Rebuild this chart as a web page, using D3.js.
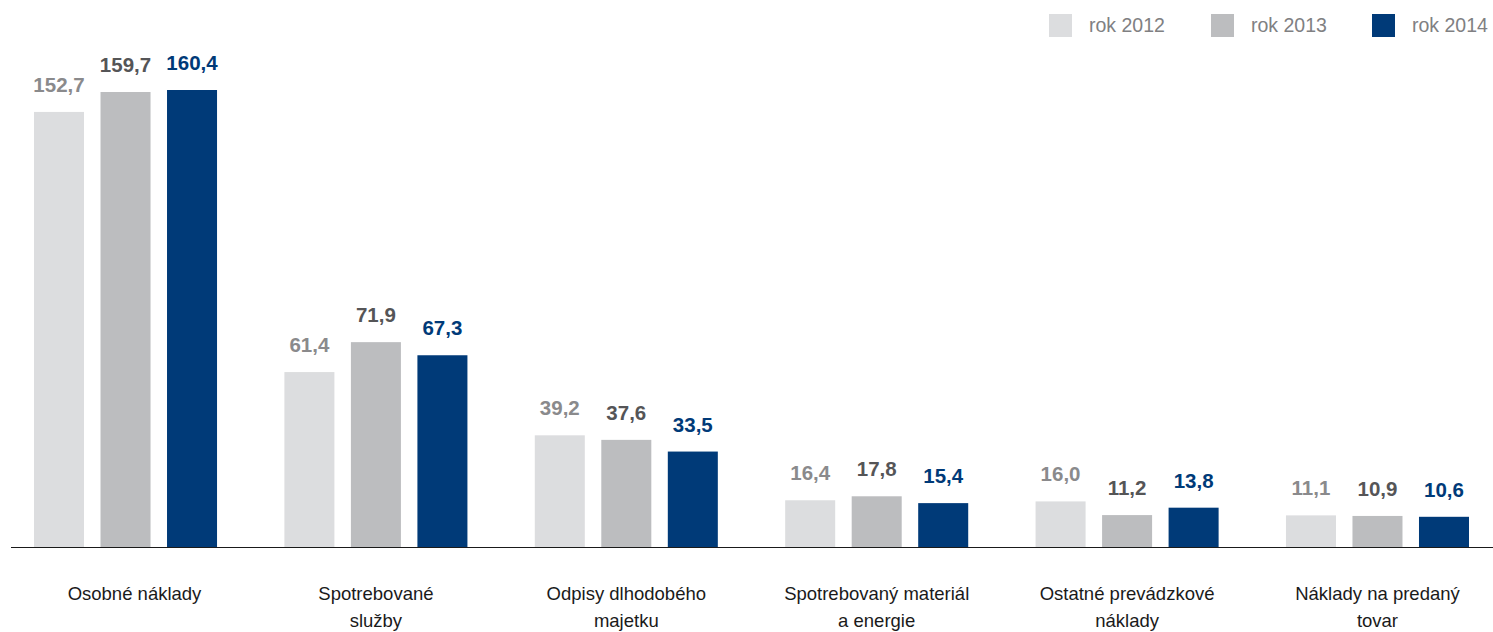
<html>
<head>
  <meta charset="utf-8">
  <script src="https://d3js.org/d3.v7.min.js"></script>
  <style>
    body { margin: 0; background: #fff; }
    text { font-family: "Liberation Sans", Arial, sans-serif; }
  </style>
</head>
<body>
  <div id="chart"></div>
  <script>
  // data
  var categories = [
    ["Osobné náklady"],
    ["Spotrebované", "služby"],
    ["Odpisy dlhodobého", "majetku"],
    ["Spotrebovaný materiál", "a energie"],
    ["Ostatné prevádzkové", "náklady"],
    ["Náklady na predaný", "tovar"]
  ];
  var years = ["rok 2012", "rok 2013", "rok 2014"];
  var v2012 = [152.7, 61.4, 39.2, 16.4, 16.0, 11.1];
  var v2013 = [159.7, 71.9, 37.6, 17.8, 11.2, 10.9];
  var v2014 = [160.4, 67.3, 33.5, 15.4, 13.8, 10.6];

  var series = [v2012, v2013, v2014];
  var barColors = ["#dcdddf", "#bcbdbf", "#003a78"];
  var labelColors = ["#8a8a8c", "#555557", "#003a78"];

  var width = 1493, height = 632, baseline = 547;

  var svg = d3.select("#chart")
    .append("svg")
      .attr("width", width)
      .attr("height", height);

  var x0 = d3.scaleBand()
    .domain(d3.range(categories.length))
    .range([34, 1469])
    .paddingInner(0.269)
    .paddingOuter(0);

  var x1 = d3.scaleBand()
    .domain(d3.range(years.length))
    .range([0, x0.bandwidth()])
    .paddingInner(0.248);

  var y = d3.scaleLinear()
    .domain([0, 160.4])
    .range([baseline, 90]);

  // bars
  var groups = svg.append("g")
    .selectAll("g")
    .data(categories)
    .enter()
    .append("g")
      .attr("transform", function(d, i) { return "translate(" + x0(i) + ",0)"; });

  groups.each(function(cat, i) {
    var g = d3.select(this);
    series.forEach(function(s, k) {
      g.append("rect")
        .attr("x", x1(k))
        .attr("y", y(s[i]))
        .attr("width", x1.bandwidth())
        .attr("height", baseline - y(s[i]))
        .attr("fill", barColors[k]);

      g.append("text")
        .attr("x", x1(k) + x1.bandwidth() / 2)
        .attr("y", y(s[i]) - 20)
        .attr("text-anchor", "middle")
        .style("font-size", "20.5px")
        .style("font-weight", "bold")
        .style("fill", labelColors[k])
        .text(d3.format(".1f")(s[i]).replace(".", ","));
    });

    // category label (first one sits a bit right in the original)
    var t = g.append("text")
      .attr("text-anchor", "middle")
      .style("font-size", "18.5px")
      .style("fill", "#1a1a1a");
    cat.forEach(function(line, j) {
      t.append("tspan")
        .attr("x", x0.bandwidth() / 2 + (i === 0 ? 9 : 0))
        .attr("y", 600 + j * 27)
        .text(line);
    });
  });

  // baseline
  svg.append("line")
    .attr("x1", 11)
    .attr("x2", width)
    .attr("y1", baseline + 0.5)
    .attr("y2", baseline + 0.5)
    .attr("stroke", "#1a1a1a")
    .attr("stroke-width", 1);

  // legend
  var legendX = [1049, 1211, 1372];
  var legend = svg.append("g")
    .selectAll("g")
    .data(years)
    .enter()
    .append("g")
      .attr("transform", function(d, i) { return "translate(" + legendX[i] + ",14)"; });

  legend.append("rect")
    .attr("width", 23)
    .attr("height", 23)
    .attr("fill", function(d, i) { return barColors[i]; });

  legend.append("text")
    .attr("x", 40)
    .attr("y", 18)
    .style("font-size", "19.5px")
    .style("fill", "#808082")
    .text(function(d) { return d; });
  </script>
</body>
</html>
